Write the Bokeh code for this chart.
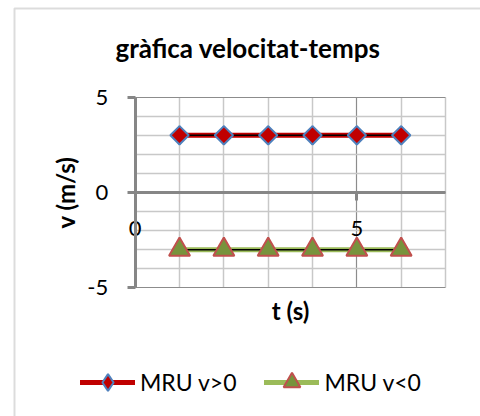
from math import pi
from bokeh.plotting import figure
from bokeh.models import (FixedTicker, Legend, LegendItem, Range1d, Label, BoxAnnotation)
from bokeh.embed import file_html
from bokeh.resources import INLINE

# ---- data ----
t = [1, 2, 3, 4, 5, 6]
v_pos = [3, 3, 3, 3, 3, 3]
v_neg = [-3, -3, -3, -3, -3, -3]
x_ticks = [0, 5]
x_minor = [1, 2, 3, 4, 6, 7]
y_ticks = [-5, 0, 5]
y_minor = [-4, -3, -2, -1, 1, 2, 3, 4]
y_tick_labels = {-5: "-5", 0: "0", 5: "5"}
x_tick_labels = {0: "0", 5: "5"}
x_lim = (0, 7)
y_lim = (-5, 5)
title_text = "gràfica velocitat-temps"
x_label = "t (s)"
y_label = "v (m/s)"
series_names = ["MRU v>0", "MRU v<0"]

FONT = "Lato"
AXIS_GRAY = "#868686"

# ---- layout: the frame fills the canvas; plot area placed in pixels ----
W, H = 480, 416
PX_LEFT, PX_RIGHT = 134.7, 445.0     # pixel x of x_lim
PX_TOP, PX_BOTTOM = 96.7, 287.3      # pixel y of y_lim (top, bottom)
ux = (PX_RIGHT - PX_LEFT) / (x_lim[1] - x_lim[0])
uy = (PX_BOTTOM - PX_TOP) / (y_lim[1] - y_lim[0])
xr = Range1d(x_lim[0] - PX_LEFT / ux, x_lim[1] + (W - PX_RIGHT) / ux)
yr = Range1d(y_lim[0] - (H - PX_BOTTOM) / uy, y_lim[1] + PX_TOP / uy)

p = figure(width=W, height=H, output_backend="svg", toolbar_location=None,
           x_range=xr, y_range=yr, title=None,
           min_border=0, min_border_left=0, min_border_right=0,
           min_border_top=0, min_border_bottom=0)
p.background_fill_color = "white"
p.border_fill_color = "white"
p.outline_line_color = None

xt = FixedTicker(ticks=x_ticks, minor_ticks=x_minor)
yt = FixedTicker(ticks=y_ticks, minor_ticks=y_minor)

# x axis crossing at v = 0
xa = p.xaxis[0]
xa.ticker = xt
xa.fixed_location = 0
xa.bounds = x_lim
xa.major_label_overrides = x_tick_labels
xa.axis_line_color = AXIS_GRAY
xa.axis_line_width = 3
xa.major_tick_line_color = AXIS_GRAY
xa.major_tick_line_width = 3
xa.major_tick_out = 8
xa.major_tick_in = 0
xa.minor_tick_out = 0
xa.minor_tick_in = 0
xa.major_label_standoff = 20
xa.major_label_text_font = FONT
xa.major_label_text_font_size = "22px"
xa.major_label_text_color = "black"
xa.axis_label = x_label
xa.axis_label_text_font = FONT
xa.axis_label_text_font_style = "bold"
xa.axis_label_text_font_size = "24px"
xa.axis_label_text_color = "black"
xa.axis_label_standoff = 57

# y axis crossing at t = 0
ya = p.yaxis[0]
ya.ticker = yt
ya.fixed_location = 0
ya.bounds = y_lim
ya.major_label_overrides = y_tick_labels
ya.axis_line_color = AXIS_GRAY
ya.axis_line_width = 3
ya.major_tick_line_color = AXIS_GRAY
ya.major_tick_line_width = 3
ya.major_tick_out = 8
ya.major_tick_in = 0
ya.minor_tick_out = 0
ya.minor_tick_in = 0
ya.major_label_standoff = 19
ya.major_label_text_font = FONT
ya.major_label_text_font_size = "22px"
ya.major_label_text_color = "black"
ya.axis_label = y_label
ya.axis_label_text_font = FONT
ya.axis_label_text_font_style = "bold"
ya.axis_label_text_font_size = "24px"
ya.axis_label_text_color = "black"
ya.axis_label_standoff = 5

# grids limited to the plot area
gx, gy = p.xgrid[0], p.ygrid[0]
for g, tk in ((gx, xt), (gy, yt)):
    g.ticker = tk
    g.grid_line_color = "#8C8C8C"
    g.grid_line_width = 1.2
    g.minor_grid_line_color = "#C8C8C8"
    g.minor_grid_line_width = 1.5
try:
    gx.cross_bounds = y_lim
    gy.cross_bounds = x_lim
except AttributeError:
    for kw in (dict(right=x_lim[0]), dict(left=x_lim[1]),
               dict(top=y_lim[0]), dict(bottom=y_lim[1])):
        p.add_layout(BoxAnnotation(fill_color="white", fill_alpha=1,
                                   line_color=None, level="underlay", **kw))

# series 1
r1 = p.line(t, v_pos, line_color="#C00000", line_width=5, line_cap="round")
p.line(t, v_pos, line_color="black", line_width=1.5)
k1 = p.scatter(t, v_pos, marker="diamond", size=18,
               fill_color="#C00000", line_color="#4F81BD", line_width=2)
p.scatter(t, v_pos, marker="square", angle=pi / 4, size=13,
          fill_color="#C00000", line_color="#4F81BD", line_width=2)

# series 2
r2 = p.line(t, v_neg, line_color="#9BBB59", line_width=5, line_cap="round")
p.line(t, v_neg, line_color="black", line_width=1.5)
k2 = p.scatter(t, v_neg, marker="triangle", size=21,
               fill_color="#77933C", line_color="#C0504D", line_width=2)

legend = Legend(items=[LegendItem(label=series_names[0], renderers=[r1, k1]),
                       LegendItem(label=series_names[1], renderers=[r2, k2])],
                orientation="horizontal", location=(80, 13),
                glyph_width=55, glyph_height=42, label_standoff=5, spacing=28,
                padding=0, margin=0, border_line_color=None,
                background_fill_alpha=0,
                label_text_font=FONT, label_text_font_size="23px",
                label_text_color="black")
p.add_layout(legend, "center")

# chart title
p.add_layout(Label(x=247.5, y=H - 47, x_units="screen", y_units="screen",
                   text=title_text, text_align="center", text_baseline="middle",
                   text_font=FONT, text_font_style="bold", text_font_size="26px",
                   text_color="black"))

# chart border (left and top edges visible)
p.add_layout(BoxAnnotation(left=14, right=700, top=8, bottom=700,
                           left_units="canvas", right_units="canvas",
                           top_units="canvas", bottom_units="canvas",
                           fill_alpha=0, line_color="#8C8C8C", line_width=2))

open("out.html", "w").write(file_html(p, INLINE))
